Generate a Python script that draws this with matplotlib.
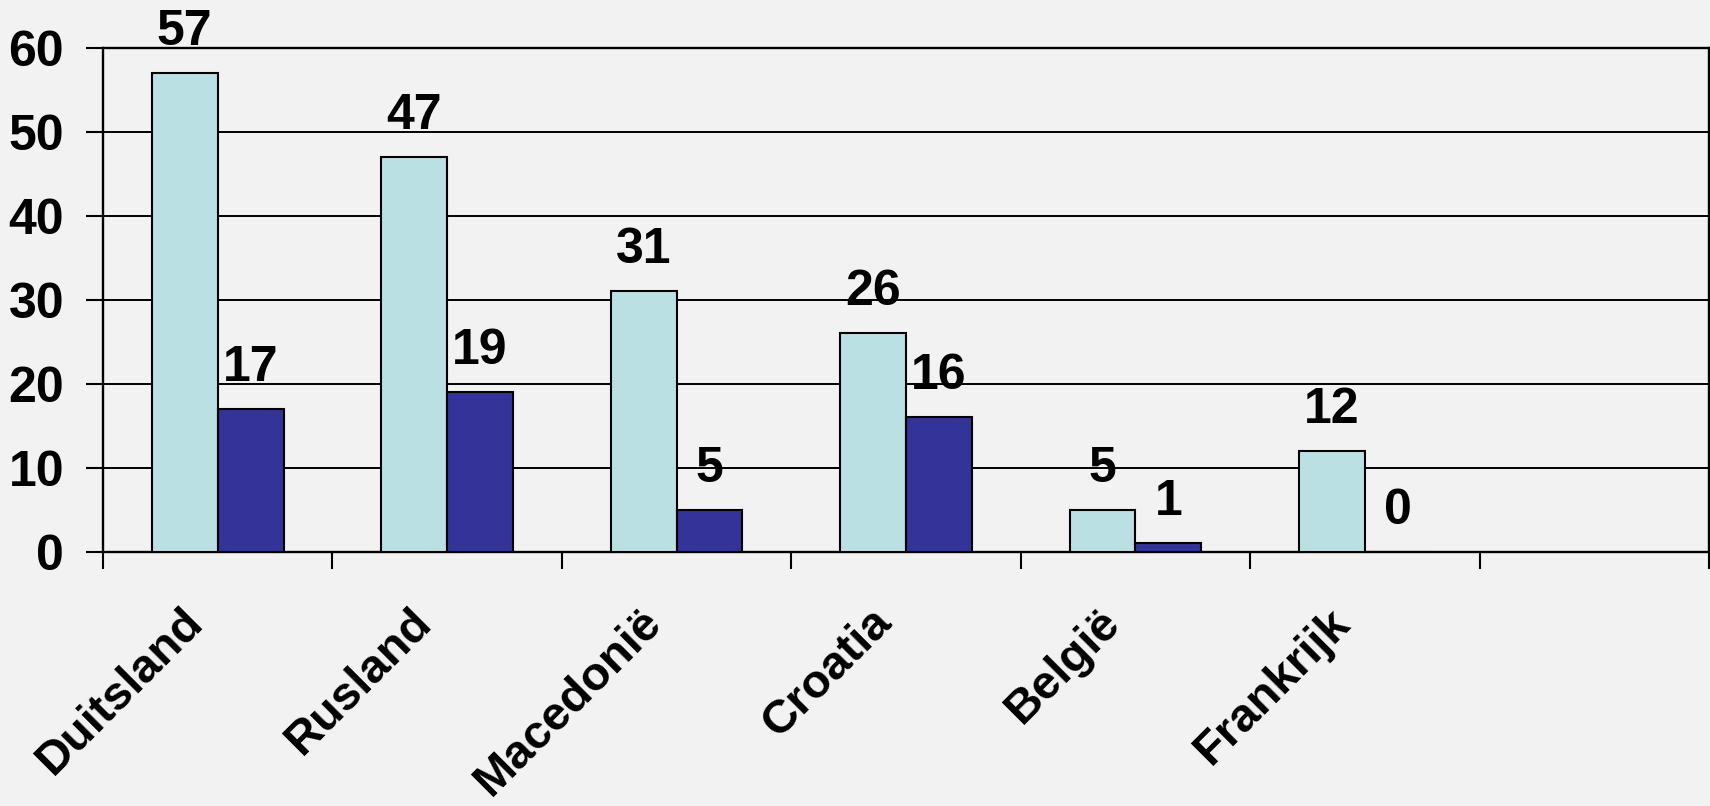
import matplotlib.pyplot as plt
import matplotlib.transforms as mtransforms
import numpy as np

# chart values
countries = ["Duitsland", "Rusland", "Macedonië", "Croatia", "België", "Frankrijk", ""]
series_a = [57, 47, 31, 26, 5, 12, None]
series_b = [17, 19, 5, 16, 1, 0, None]
y_ticks = [0, 10, 20, 30, 40, 50, 60]

light = "#BBE0E3"
dark = "#333399"
bg = "#F2F2F2"
fs = 36

plt.rcParams["font.family"] = ["Liberation Sans", "DejaVu Sans"]
plt.rcParams["font.weight"] = "bold"

fig = plt.figure(figsize=(17.1, 8.06), dpi=100, facecolor=bg)
ax = fig.add_axes([0.0602, 0.3155, 0.9392, 0.6253], facecolor=bg)

x = np.arange(len(countries))
w = 0.287

for i in range(len(countries)):
    if series_a[i] is None:
        continue
    ax.bar(x[i] - w / 2, series_a[i], w, color=light, edgecolor="black", linewidth=1.5, zorder=3)
    ax.bar(x[i] + w / 2, series_b[i], w, color=dark, edgecolor="black", linewidth=1.5, zorder=3)
    ax.annotate(str(series_a[i]), (x[i] - w / 2, series_a[i]), xytext=(0, 13),
                textcoords="offset points", ha="center", va="bottom",
                fontsize=fs, fontweight="bold", annotation_clip=False)
    ax.annotate(str(series_b[i]), (x[i] + w / 2, series_b[i]), xytext=(0, 13),
                textcoords="offset points", ha="center", va="bottom",
                fontsize=fs, fontweight="bold", annotation_clip=False)

ax.set_xlim(-0.5, len(countries) - 0.5)
ax.set_ylim(0, 60)
ax.set_yticks(y_ticks)
ax.set_yticklabels([str(v) for v in y_ticks], fontsize=fs, fontweight="bold")
ax.yaxis.grid(True, color="black", linewidth=1.4, zorder=1)
ax.set_axisbelow(True)

# category boundaries carry the tick marks
ax.set_xticks(np.arange(len(countries) + 1) - 0.5)
ax.set_xticklabels([])
ax.set_xticks(x, minor=True)
ax.set_xticklabels(countries, minor=True, fontsize=34, fontweight="bold",
                   rotation=45, ha="right", va="top", rotation_mode="anchor")
ax.tick_params(axis="x", which="minor", length=0, pad=35)
ax.tick_params(axis="x", which="major", length=12, width=1.5, direction="out")
ax.tick_params(axis="y", length=12, width=1.5, direction="out", pad=16)

shift = mtransforms.ScaledTranslation(-37 / 100, 0, fig.dpi_scale_trans)
for lbl in ax.get_xticklabels(minor=True):
    lbl.set_transform(lbl.get_transform() + shift)

for s in ax.spines.values():
    s.set_linewidth(1.7)
    s.set_color("black")

fig.savefig("out.png", dpi=100, facecolor=bg)
